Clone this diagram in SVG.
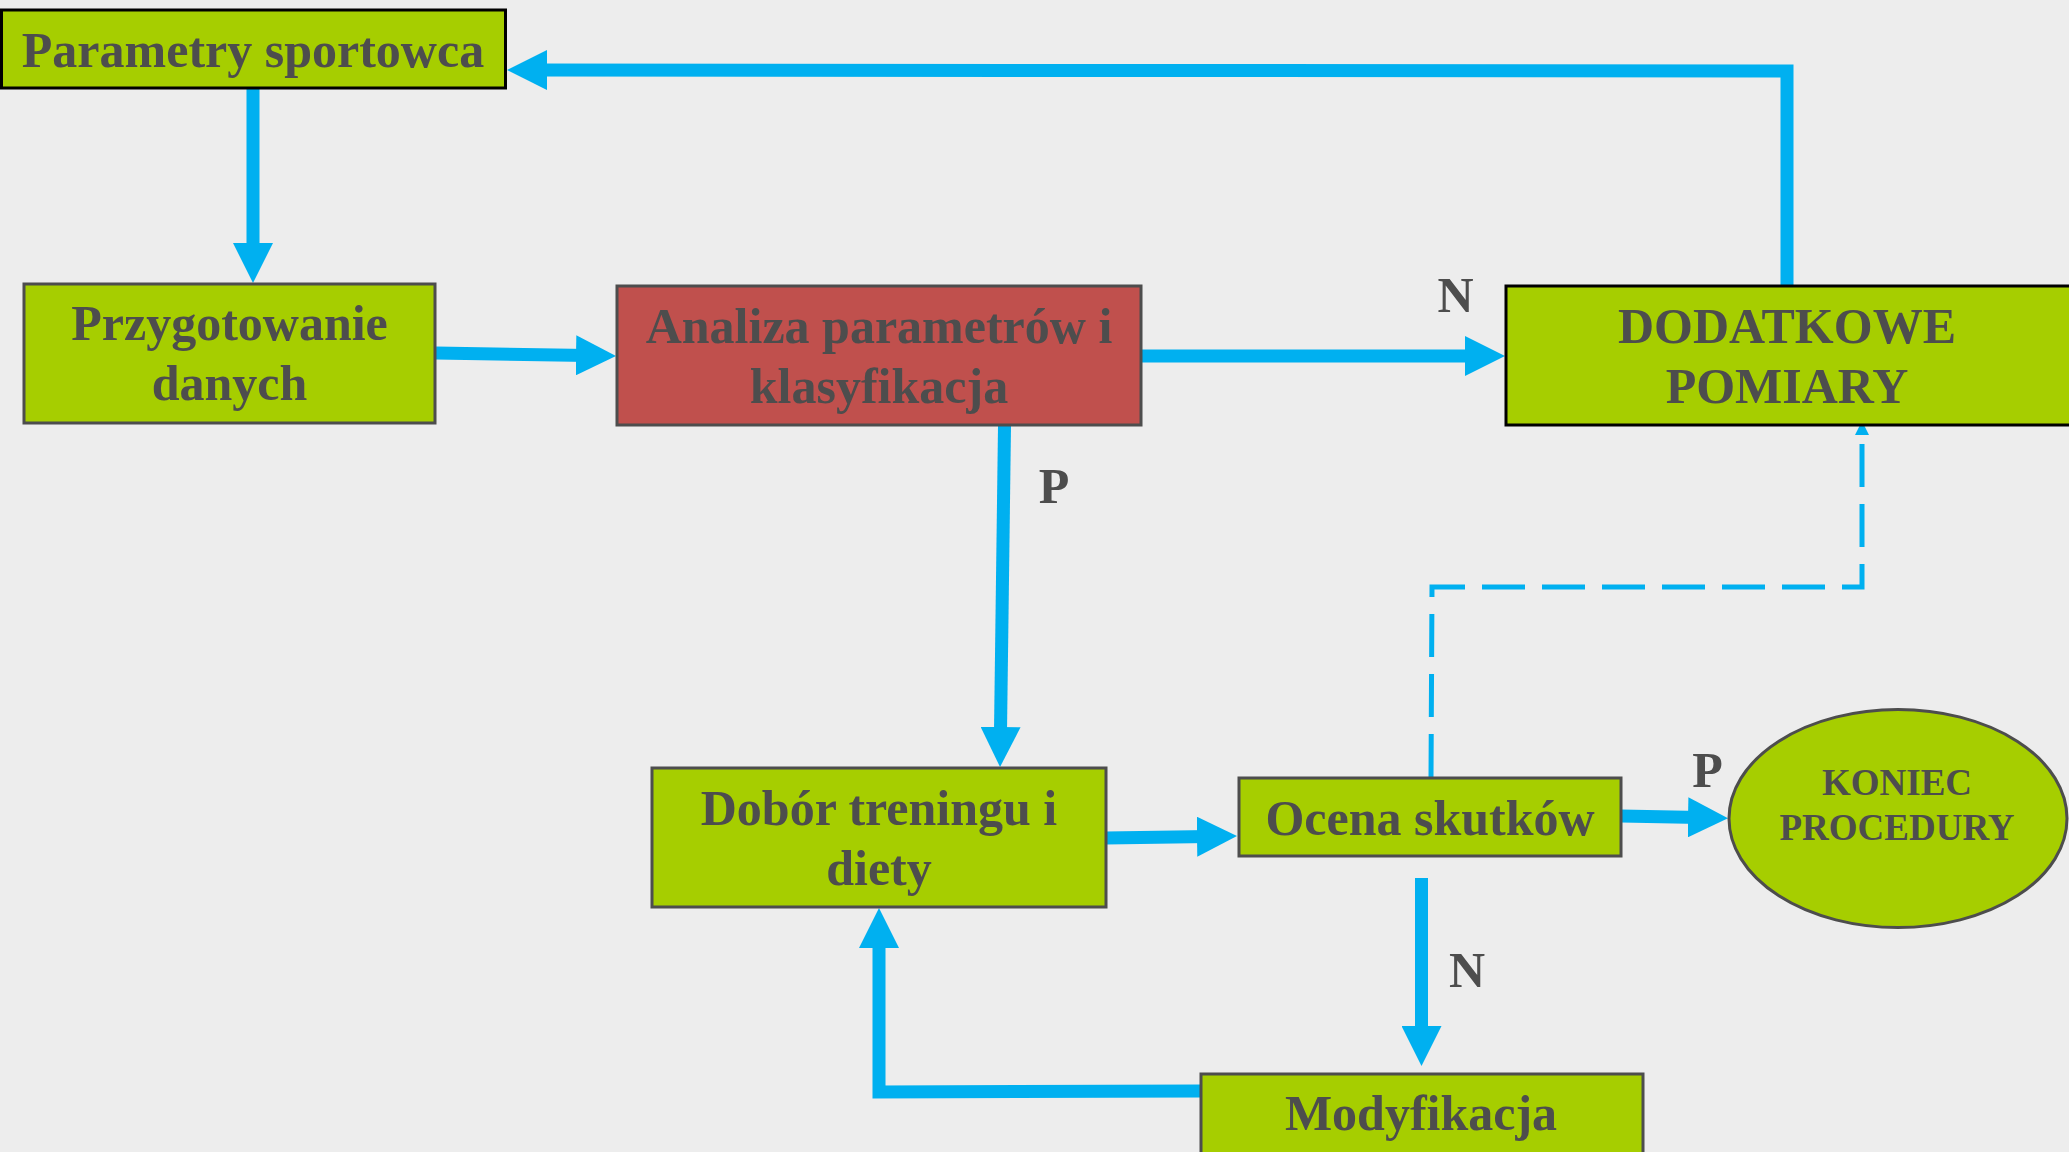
<svg xmlns="http://www.w3.org/2000/svg" width="2069" height="1152" viewBox="0 0 2069 1152">
<style>
.bg{fill:#EDEDED}
.box{fill:#A6CE00;stroke:#4D4D4D;stroke-width:3}
.boxk{fill:#A6CE00;stroke:#000000;stroke-width:3}
.red{fill:#C0504D;stroke:#4D4D4D;stroke-width:3}
.t{font-family:"Liberation Serif","Times New Roman",serif;font-weight:bold;font-size:50px;fill:#4D4D4D;text-anchor:middle}
.ts{font-size:37px}
.c{fill:none;stroke:#00B0F0;stroke-width:13;stroke-linejoin:miter}
.d{fill:none;stroke:#00B0F0;stroke-width:5;stroke-dasharray:43 17}
</style>
<defs>
<marker id="ah" markerUnits="userSpaceOnUse" markerWidth="40" markerHeight="40" refX="12" refY="20" orient="auto">
<path d="M0,0 L40,20 L0,40 Z" fill="#00B0F0"/>
</marker>
<marker id="ahs" markerUnits="userSpaceOnUse" markerWidth="14" markerHeight="14" refX="2" refY="7" orient="auto">
<path d="M0,0 L14,7 L0,14 Z" fill="#00B0F0"/>
</marker>
</defs>
<rect class="bg" x="0" y="0" width="2069" height="1152"/>
<g id="connectors">
<path class="c" d="M253,89 L253,255" marker-end="url(#ah)"/>
<path class="c" d="M436,353 L588,355.5" marker-end="url(#ah)"/>
<path class="c" d="M1141,356 L1477,356" marker-end="url(#ah)"/>
<path class="c" d="M1787,285 L1787,71 L535,70" marker-end="url(#ah)"/>
<path class="c" d="M1004.5,426 L1000.4,739" marker-end="url(#ah)"/>
<path class="c" d="M1106,838 L1209,836.5" marker-end="url(#ah)"/>
<path class="c" d="M1621,816 L1700,817.6" marker-end="url(#ah)"/>
<path class="c" d="M1421.5,878 L1421.5,1038" marker-end="url(#ah)"/>
<path class="c" d="M1200,1091 L879,1092 L879,936" marker-end="url(#ah)"/>
<path class="d" d="M1431,777 L1432,587 L1862,587 L1862,433" marker-end="url(#ahs)"/>
</g>
<g id="n-parametry">
<rect class="boxk" x="1.5" y="10" width="504" height="78"/>
<text class="t" x="253" y="67">Parametry sportowca</text>
</g>
<g id="n-przygotowanie">
<rect class="box" x="24" y="284" width="411" height="139"/>
<text class="t" x="229.5" y="340">Przygotowanie</text>
<text class="t" x="229.5" y="400">danych</text>
</g>
<g id="n-analiza">
<rect class="red" x="617" y="286" width="524" height="139"/>
<text class="t" x="879" y="343">Analiza parametrów i</text>
<text class="t" x="879" y="403">klasyfikacja</text>
</g>
<g id="n-dodatkowe">
<rect class="boxk" x="1506" y="286" width="570" height="139"/>
<text class="t" x="1787" y="343">DODATKOWE</text>
<text class="t" x="1787" y="403">POMIARY</text>
</g>
<g id="n-dobor">
<rect class="box" x="652" y="768" width="454" height="139"/>
<text class="t" x="879" y="825">Dobór treningu i</text>
<text class="t" x="879" y="885">diety</text>
</g>
<g id="n-ocena">
<rect class="box" x="1239" y="778" width="382" height="78"/>
<text class="t" x="1430" y="835">Ocena skutków</text>
</g>
<g id="n-modyfikacja">
<rect class="box" x="1201" y="1074" width="442" height="100"/>
<text class="t" x="1421" y="1130">Modyfikacja</text>
</g>
<g id="n-koniec">
<ellipse class="box" cx="1898" cy="818.5" rx="169" ry="109"/>
<text class="t ts" x="1897" y="795">KONIEC</text>
<text class="t ts" x="1897" y="840">PROCEDURY</text>
</g>
<g id="labels">
<text class="t" x="1455.5" y="312">N</text>
<text class="t" x="1054" y="503">P</text>
<text class="t" x="1707.5" y="787">P</text>
<text class="t" x="1467" y="987">N</text>
</g>
</svg>
